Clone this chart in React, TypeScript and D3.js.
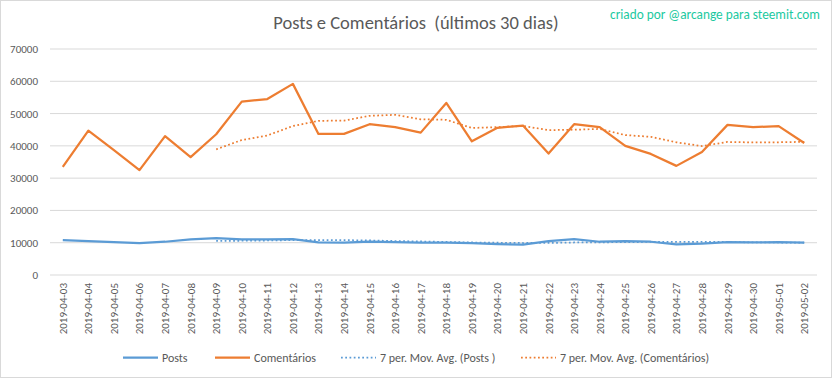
import React from "react";
import * as d3 from "d3";

const dates = [
  "2019-04-03","2019-04-04","2019-04-05","2019-04-06","2019-04-07","2019-04-08","2019-04-09","2019-04-10",
  "2019-04-11","2019-04-12","2019-04-13","2019-04-14","2019-04-15","2019-04-16","2019-04-17","2019-04-18",
  "2019-04-19","2019-04-20","2019-04-21","2019-04-22","2019-04-23","2019-04-24","2019-04-25","2019-04-26",
  "2019-04-27","2019-04-28","2019-04-29","2019-04-30","2019-05-01","2019-05-02",
];
const posts = [
  10800,10500,10200,9900,10300,11000,11400,11000,11000,11100,10100,10000,10300,10200,10000,10000,
  9900,9600,9400,10500,11100,10300,10500,10300,9500,9700,10200,10100,10200,10000,
];
const comentarios = [
  33500,44700,38700,32500,43000,36500,43600,53700,54500,59200,43700,43700,46700,45800,44100,53300,
  41400,45600,46300,37600,46700,45800,40000,37500,33800,38100,46500,45800,46100,40900,
];
// 7-period moving averages (start at 2019-04-09)
const postsMA: (number | null)[] = [
  null,null,null,null,null,null,10590,10610,10690,10810,10840,10800,10700,10530,10390,10240,
  10070,10000,9910,9940,10070,10110,10190,10240,10230,10270,10230,10090,10070,10000,
];
const comentariosMA: (number | null)[] = [
  null,null,null,null,null,null,38930,41810,43210,46140,47740,47840,49300,49610,48240,48070,
  45530,45800,46170,44870,45000,45240,43340,42790,41100,39930,41200,41070,41110,41240,
];
const yTicks = [0,10000,20000,30000,40000,50000,60000,70000];

const W = 832, H = 378;
const BLUE = "#5B9BD5", ORANGE = "#ED7D31", GRID = "#D9D9D9", TXT = "#595959";
const FONT = "Carlito, Calibri, 'Open Sans', sans-serif";

export default function App() {
  const x = d3.scaleBand<string>().domain(dates).range([50, 817]).padding(0);
  const y = d3.scaleLinear().domain([0, 70000]).range([275, 49]);
  const cx = (d: string) => (x(d) as number) + x.bandwidth() / 2;
  const line = d3
    .line<number | null>()
    .defined((v) => v !== null)
    .x((_, i) => cx(dates[i]))
    .y((v) => y(v as number));

  const legend = [
    { label: "Posts", color: BLUE, dash: false, x0: 123 },
    { label: "Comentários", color: ORANGE, dash: false, x0: 215 },
    { label: "7 per. Mov. Avg. (Posts )", color: BLUE, dash: true, x0: 341 },
    { label: "7 per. Mov. Avg. (Comentários)", color: ORANGE, dash: true, x0: 521 },
  ];

  return (
    <svg width={W} height={H} style={{ position: "absolute", left: 0, top: 0, background: "#fff" }} fontFamily={FONT}>
      <rect x={0.5} y={0.5} width={W - 1} height={H - 1} fill="#fff" stroke={GRID} />
      <text x={416} y={29} textAnchor="middle" fontSize={18.5} fill={TXT} style={{ whiteSpace: "pre" }}>
        {"Posts e Comentários  (últimos 30 dias)"}
      </text>
      <text x={820} y={19} textAnchor="end" fontSize={13.3} fill="#1BC99F">
        criado por @arcange para steemit.com
      </text>
      {yTicks.map((t) => (
        <g key={t}>
          <line x1={50} x2={817} y1={y(t)} y2={y(t)} stroke={GRID} strokeWidth={1} />
          <text x={38} y={y(t) + 4} textAnchor="end" fontSize={11} fill={TXT}>{t}</text>
        </g>
      ))}
      {dates.map((d) => (
        <text key={d} transform={`translate(${cx(d) + 4},283) rotate(-90)`} textAnchor="end" fontSize={11} fill={TXT}>
          {d}
        </text>
      ))}
      <path d={line(postsMA) as string} fill="none" stroke={BLUE} strokeWidth={1.75} strokeDasharray="1.75,2.5" />
      <path d={line(comentariosMA) as string} fill="none" stroke={ORANGE} strokeWidth={1.75} strokeDasharray="1.75,2.5" />
      <path d={line(posts) as string} fill="none" stroke={BLUE} strokeWidth={2.25} strokeLinejoin="round" />
      <path d={line(comentarios) as string} fill="none" stroke={ORANGE} strokeWidth={2.25} strokeLinejoin="round" />
      {legend.map((l) => (
        <g key={l.label}>
          <line x1={l.x0} x2={l.x0 + 35} y1={357.5} y2={357.5} stroke={l.color}
            strokeWidth={l.dash ? 1.75 : 2.25} strokeDasharray={l.dash ? "1.75,2.5" : undefined} />
          <text x={l.x0 + 39} y={361.5} fontSize={12} fill={TXT}>{l.label}</text>
        </g>
      ))}
    </svg>
  );
}
